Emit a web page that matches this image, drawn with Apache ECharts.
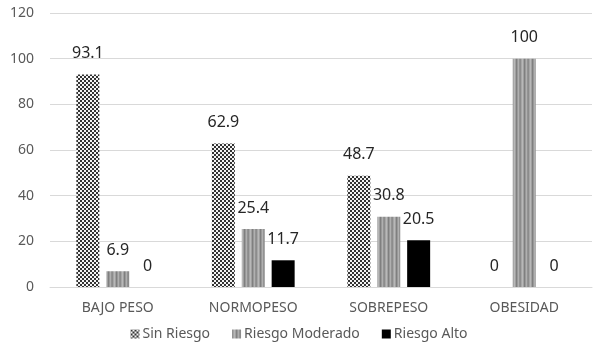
<!DOCTYPE html>
<html>
<head>
<meta charset="utf-8">
<script src="https://cdn.jsdelivr.net/npm/echarts@6/dist/echarts.min.js"></script>
<style>
  html, body { margin: 0; padding: 0; background: #fff; }
  #chart { width: 598px; height: 347px; }
</style>
</head>
<body>
<div id="chart"></div>
<script>
const categories = ['BAJO PESO', 'NORMOPESO', 'SOBREPESO', 'OBESIDAD']
const sinRiesgo = [93.1, 62.9, 48.7, 0]
const riesgoModerado = [6.9, 25.4, 30.8, 100]
const riesgoAlto = [0, 11.7, 20.5, 0]

// patrón ajedrezado para "Sin Riesgo"
function checkerPattern() {
  const c = document.createElement('canvas')
  c.width = 4; c.height = 4
  const ctx = c.getContext('2d')
  ctx.fillStyle = '#f4f4f4'
  ctx.fillRect(0, 0, 4, 4)
  ctx.fillStyle = '#333333'
  ctx.fillRect(0, 0, 2, 2)
  ctx.fillRect(2, 2, 2, 2)
  return c
}

// rayas verticales grises para "Riesgo Moderado"
function stripePattern() {
  const c = document.createElement('canvas')
  c.width = 8; c.height = 4
  const ctx = c.getContext('2d')
  const cols = ['#8c8c8c', '#a6a6a6', '#b8b8b8', '#a0a0a0', '#7f7f7f', '#999999', '#b0b0b0', '#939393']
  cols.forEach((col, i) => {
    ctx.fillStyle = col
    ctx.fillRect(i, 0, 1, 4)
  })
  return c
}

const chart = echarts.init(document.getElementById('chart'))

const labelStyle = {
  show: true,
  position: 'top',
  distance: 13,
  fontSize: 16,
  color: '#262626',
  fontFamily: 'Noto Sans'
}

const option = {
  animation: false,
  textStyle: { fontFamily: 'Noto Sans' },
  grid: { left: 50, right: 6, top: 13, bottom: 60 },
  legend: {
    bottom: 1,
    left: 'center',
    itemWidth: 9,
    itemHeight: 9,
    itemGap: 22,
    icon: 'rect',
    textStyle: { fontSize: 14, color: '#595959', padding: [0, 0, 0, -2] },
    data: ['Sin Riesgo', 'Riesgo Moderado', 'Riesgo Alto']
  },
  xAxis: {
    type: 'category',
    data: categories,
    axisLine: { lineStyle: { color: '#d9d9d9' } },
    axisTick: { show: false },
    axisLabel: { fontSize: 14, color: '#595959', margin: 14 }
  },
  yAxis: {
    type: 'value',
    min: 0,
    max: 120,
    interval: 20,
    axisLine: { show: false },
    axisTick: { show: false },
    axisLabel: { fontSize: 14, color: '#595959', margin: 16 },
    splitLine: { lineStyle: { color: '#d9d9d9' } }
  },
  series: [
    {
      name: 'Sin Riesgo',
      type: 'bar',
      data: sinRiesgo,
      barWidth: 23,
      barGap: '30%',
      itemStyle: { color: { image: checkerPattern(), repeat: 'repeat' } },
      label: labelStyle
    },
    {
      name: 'Riesgo Moderado',
      type: 'bar',
      data: riesgoModerado,
      barWidth: 23,
      barGap: '30%',
      itemStyle: { color: { image: stripePattern(), repeat: 'repeat' } },
      label: labelStyle
    },
    {
      name: 'Riesgo Alto',
      type: 'bar',
      data: riesgoAlto,
      barWidth: 23,
      barGap: '30%',
      itemStyle: { color: '#000000' },
      label: labelStyle
    }
  ]
}

chart.setOption(option)
</script>
</body>
</html>
